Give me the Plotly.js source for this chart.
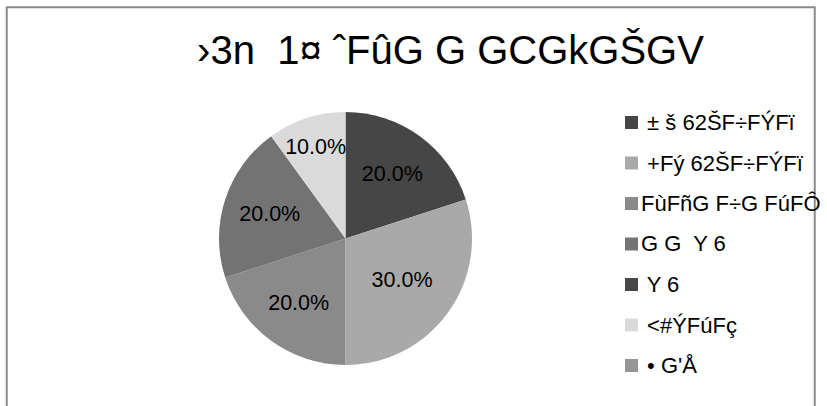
<!DOCTYPE html>
<html>
<head>
<meta charset="utf-8">
<script src="https://cdn.plot.ly/plotly-3.0.1.min.js"></script>
<style>
  html, body { margin: 0; padding: 0; background: #ffffff; }
  #chart { width: 827px; height: 406px; }
</style>
</head>
<body>
<div id="chart"></div>
<script>
// ---- data ----
const chartTitle = "›3n  1¤ ˆFûG G GCGkGŠGV";
const categories = [
  " ± š 62ŠF÷FÝFï",
  " +Fý 62ŠF÷FÝFï",
  "FùFñG F÷G FúFÔ",
  "G G  Y 6",
  " Y 6",
  " <#ÝFúFç",
  " • G'Å"
];
const values = [20, 30, 20, 20, 0, 10, 0];
const sliceColors = ["#464646", "#a9a9a9", "#8a8a8a", "#737373", "#474747", "#dadada", "#969696"];

// ---- layout helpers (pixels -> paper fractions, margins are zero) ----
const W = 827, H = 406;
const px = x => x / W;
const py = y => (H - y) / H;

const FONT = "Arial, 'Liberation Sans', sans-serif";

const trace = {
  type: "pie",
  labels: categories,
  values: values,
  sort: false,
  direction: "clockwise",
  rotation: 0,
  marker: { colors: sliceColors, line: { width: 0 } },
  texttemplate: values.map(v => (v > 0 ? "%{percent:.1%}" : "")),
  textposition: "inside",
  insidetextorientation: "horizontal",
  textfont: { family: FONT, size: 21.5, color: "#000000" },
  hoverinfo: "label+percent",
  domain: { x: [px(219), px(472)], y: [py(365), py(112)] },
  showlegend: false
};

// legend drawn from the category / colour arrays
const LEG_Y0 = 122.5, LEG_DY = 40.5;
const legendShapes = categories.map((c, i) => ({
  type: "rect", xref: "paper", yref: "paper", layer: "above",
  x0: px(625), x1: px(638),
  y0: py(LEG_Y0 + LEG_DY * i + 6.5), y1: py(LEG_Y0 + LEG_DY * i - 6.5),
  line: { width: 0 }, fillcolor: sliceColors[i]
}));
const legendTexts = categories.map((c, i) => ({
  xref: "paper", yref: "paper",
  x: px(638.5), xanchor: "left",
  y: py(LEG_Y0 + LEG_DY * i), yanchor: "middle",
  text: c, showarrow: false, align: "left",
  font: { family: FONT, size: 22, color: "#000000" }
}));

const layout = {
  width: W,
  height: H,
  margin: { l: 0, r: 0, t: 0, b: 0, pad: 0, autoexpand: false },
  paper_bgcolor: "#ffffff",
  plot_bgcolor: "#ffffff",
  font: { family: FONT, color: "#000000" },
  title: {
    text: chartTitle,
    font: { family: FONT, size: 40, color: "#000000" },
    x: px(450.5), xanchor: "center", xref: "paper",
    y: py(50), yanchor: "middle", yref: "paper"
  },
  uniformtext: { mode: "show", minsize: 21.5 },
  showlegend: false,
  annotations: legendTexts,
  shapes: [
    {
      type: "rect", xref: "paper", yref: "paper", layer: "below",
      x0: px(6.75), x1: px(814.75), y0: py(440), y1: py(7.25),
      line: { color: "#8a8a8a", width: 2 }, fillcolor: "rgba(0,0,0,0)"
    }
  ].concat(legendShapes)
};

Plotly.newPlot("chart", [trace], layout, { displayModeBar: false, staticPlot: true });
</script>
</body>
</html>
